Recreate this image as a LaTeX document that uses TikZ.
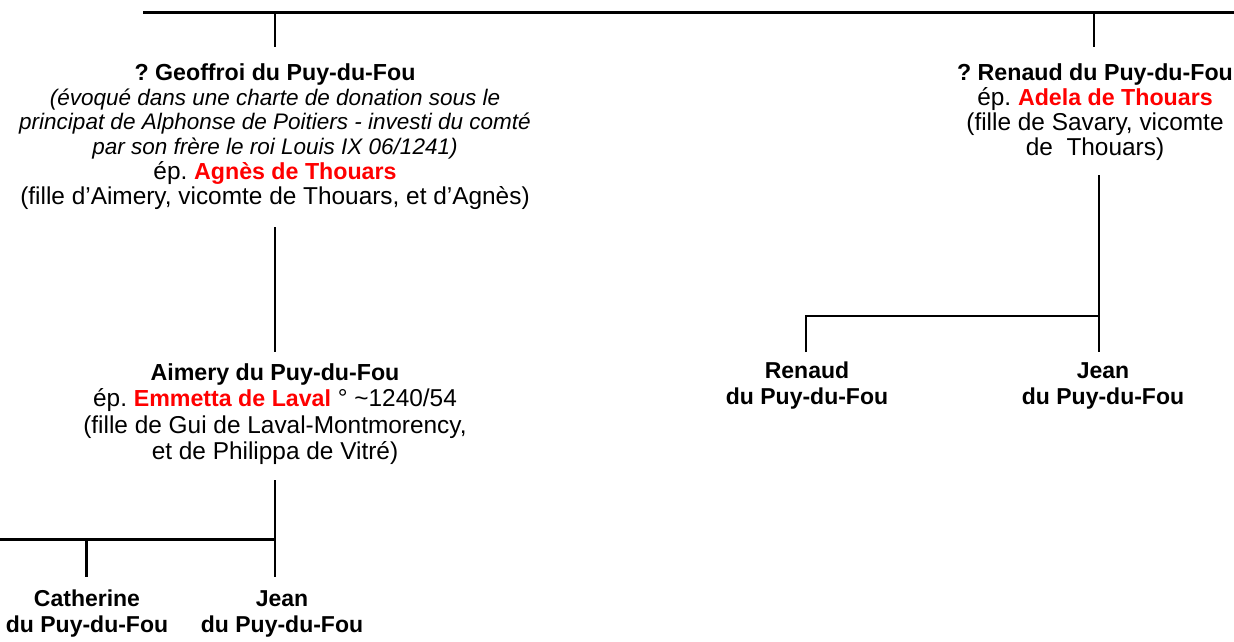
\documentclass[tikz,border=0pt]{standalone}
\usepackage{fontspec}
\setmainfont{Liberation Sans}
\frenchspacing
\definecolor{epred}{RGB}{255,0,0}
\newcommand{\bsz}{\fontsize{23.2}{24.8}\selectfont\bfseries}
\newcommand{\isz}{\fontsize{22.5}{24.8}\selectfont\itshape}
\newcommand{\rsz}{\fontsize{24.4}{24.8}\selectfont}
\tikzset{
  person/.style={align=center, inner sep=0pt, font=\rsz},
  child/.style={align=center, inner sep=0pt, font=\fontsize{23}{26}\selectfont\bfseries},
  link/.style={line width=2.8pt, black},
}
\newcommand{\spouse}[1]{\textcolor{epred}{\bsz #1}}
\begin{document}
\begin{tikzpicture}[x=1pt,y=-1pt]
\useasboundingbox (0,0) rectangle (1234,641);
% nodes
\node[person] (geoffroi) at (275,136.5) {{\bsz ? Geoffroi du Puy-du-Fou}\\
  {\isz (évoqué dans une charte de donation sous le}\\
  {\isz principat de Alphonse de Poitiers - investi du comté}\\
  {\isz par son frère le roi Louis IX 06/1241)}\\
  ép. \spouse{Agnès de Thouars}\\
  (fille d’Aimery, vicomte de Thouars, et d’Agnès)};
\node[person] (renaud) at (1095,112) {{\bsz ? Renaud du Puy-du-Fou}\\
  ép. \spouse{Adela de Thouars}\\
  (fille de Savary, vicomte\\
  de\ \ Thouars)};
\node[person, font=\fontsize{24.4}{26.5}\selectfont] (aimery) at (275,414) {{\fontsize{23.2}{26.5}\selectfont\bfseries Aimery du Puy-du-Fou}\\
  ép. \textcolor{epred}{\fontsize{23.2}{26.5}\selectfont\bfseries Emmetta de Laval} ° {\char"7E}1240/54\\
  (fille de Gui de Laval-Montmorency,\\
  et de Philippa de Vitré)};
\node[child] (catherine) at (87,614) {Catherine\\du Puy-du-Fou};
\node[child] (jeanA) at (282,614) {Jean\\du Puy-du-Fou};
\node[child] (renaudB) at (807,386) {Renaud\\du Puy-du-Fou};
\node[child] (jeanB) at (1103,386) {Jean\\du Puy-du-Fou};
% coordinates of the lines
\coordinate (topL) at (143,12.5);
\coordinate (topR) at (1234,12.5);
\coordinate (gTop) at (275,12.5);
\coordinate (gIn) at (275,47);
\coordinate (rTop) at (1094,12.5);
\coordinate (rIn) at (1094,47);
\coordinate (gOut) at (275,227);
\coordinate (aIn) at (275,352);
\coordinate (aOut) at (275,480);
\coordinate (aBus) at (275,539.5);
\coordinate (busL) at (0,539.5);
\coordinate (cBus) at (86.5,539.5);
\coordinate (cIn) at (86.5,577);
\coordinate (jAIn) at (275,577);
\coordinate (rOut) at (1099,175);
\coordinate (rBus) at (1099,316);
\coordinate (rbBus) at (806,316);
\coordinate (rbIn) at (806,352);
\coordinate (jBIn) at (1099,352);
% connectors
\draw[link] (topL) -- (topR);
\draw[link] (gTop) -- (gIn);
\draw[link] (rTop) -- (rIn);
\draw[link] (gOut) -- (aIn);
\draw[link] (aOut) -- (jAIn);
\draw[link] (busL) -- (aBus);
\draw[link] (cBus) -- (cIn);
\draw[link] (rOut) -- (jBIn);
\draw[link] (rbIn) |- (rBus);
\end{tikzpicture}
\end{document}
